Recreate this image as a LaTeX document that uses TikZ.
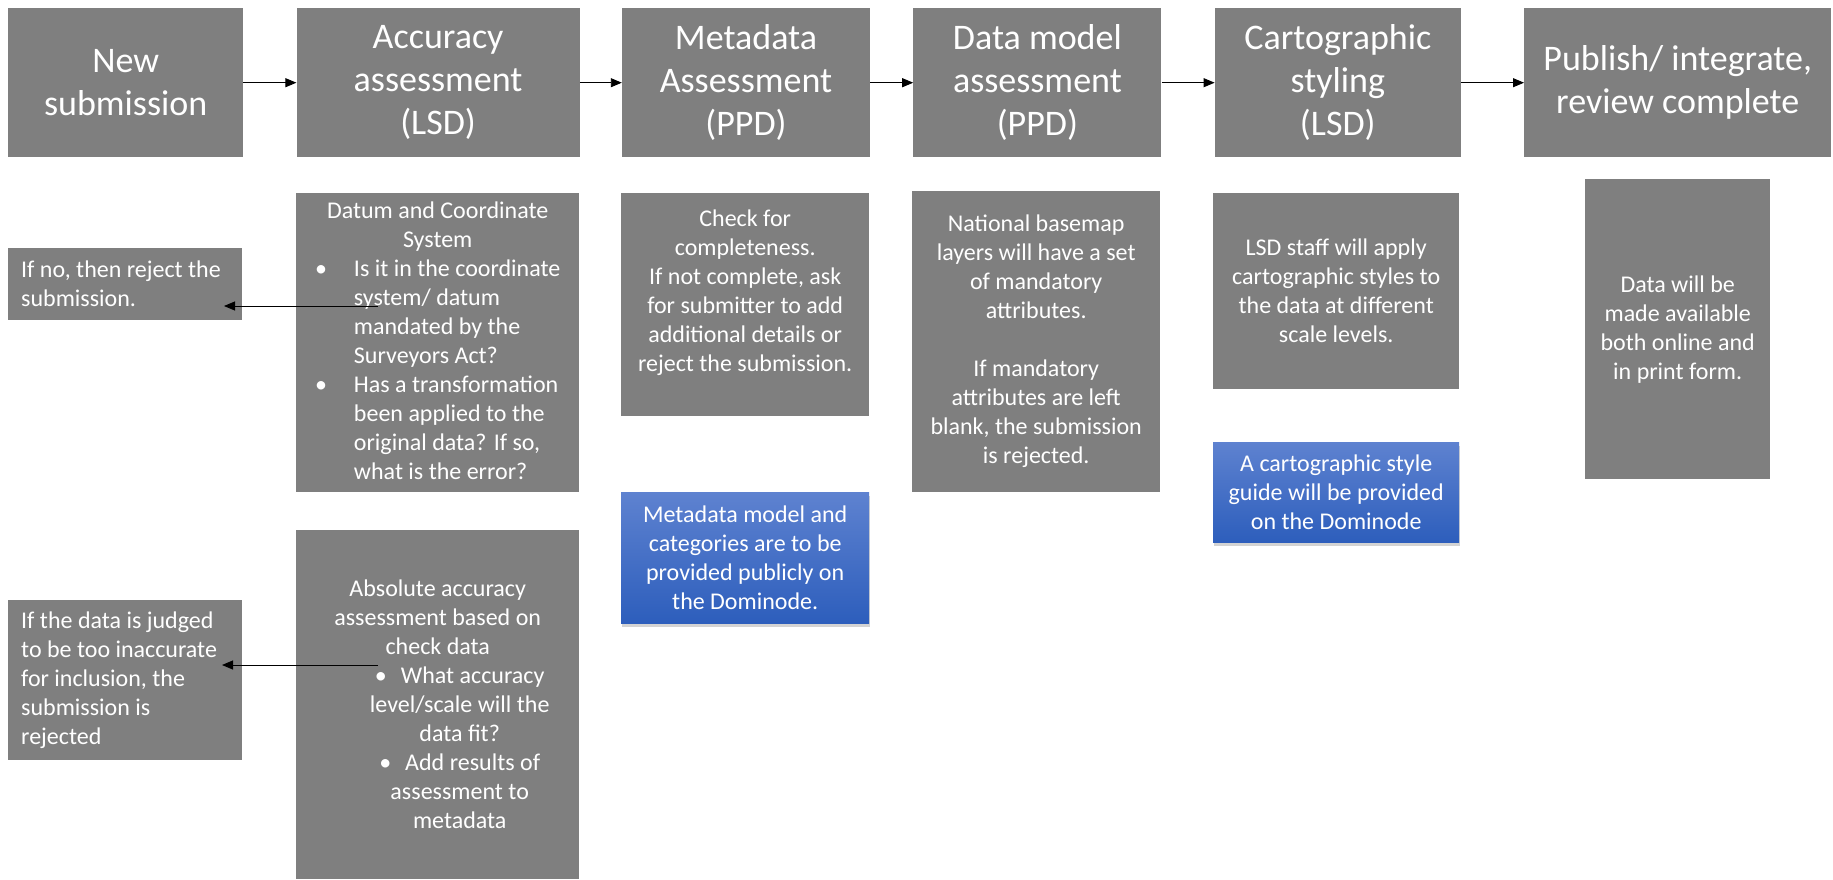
\documentclass[tikz,border=0pt]{standalone}
\usepackage{fontspec}
\setmainfont{Carlito}
\usetikzlibrary{positioning,arrows.meta,shadows}
\definecolor{boxgray}{RGB}{127,127,127}
\definecolor{bluetop}{RGB}{94,130,208}
\definecolor{bluebot}{RGB}{45,94,188}
\tikzset{
  head/.style={fill=boxgray, text=white, minimum height=149pt, inner sep=0pt, align=center, font=\fontsize{36}{43}\selectfont},
  sub/.style={fill=boxgray, text=white, inner sep=0pt, align=center, anchor=north west, font=\fontsize{24}{29}\selectfont},
  note/.style={top color=bluetop, bottom color=bluebot, text=white, inner sep=0pt, align=center, anchor=north west, font=\fontsize{24}{29}\selectfont, drop shadow={shadow xshift=1pt, shadow yshift=-4pt, opacity=0.35}},
  reject/.style={sub, align=flush left, inner xsep=13pt, text width=208pt},
  link/.style={-{Triangle[length=11pt,width=9pt]}, line width=0.9pt}
}
\begin{document}
\begin{tikzpicture}[x=1pt, y=-1pt]
  \useasboundingbox (0,0) rectangle (1833,879);
  % steps
  \node[head, minimum width=235pt, anchor=north west] (1) at (8,8) {New\\submission};
  \node[head, minimum width=283pt] (2) [right=53pt of 1] {Accuracy\\assessment\\(LSD)};
  \node[head, minimum width=248pt] (3) [right=42pt of 2] {Metadata\\Assessment\\(PPD)};
  \node[head, minimum width=248pt] (4) [right=43pt of 3] {Data model\\assessment\\(PPD)};
  \node[head, minimum width=246pt] (5) [right=53pt of 4] {Cartographic\\styling\\(LSD)};
  \node[head, minimum width=307pt] (6) [right=63pt of 5] {Publish/ integrate,\\review complete};

  \draw[link] (1) -- (2);
  \draw[link] (2) -- (3);
  \draw[link] (3) -- (4);
  \draw[link] (4) -- (5);
  \draw[link] (5) -- (6);

  % details
  \node[sub, minimum width=283pt, minimum height=299pt] (2a) at (296,193) {\begin{tabular}{@{}l@{\hspace{27pt}}l@{}}
    \multicolumn{2}{c}{Datum and Coordinate}\\
    \multicolumn{2}{c}{System}\\
    \textbullet & Is it in the coordinate\\
     & system/ datum\\
     & mandated by the\\
     & Surveyors Act?\\
    \textbullet & Has a transformation\\
     & been applied to the\\
     & original data? If so,\\
     & what is the error?
  \end{tabular}};
  \node[sub, minimum width=283pt, minimum height=349pt] (2b) at (296,530) {Absolute accuracy\\assessment based on\\check data\\
    \hspace*{44pt}\textbullet\hspace{14pt}What accuracy\\
    \hspace*{44pt}level/scale will the\\
    \hspace*{44pt}data fit?\\
    \hspace*{44pt}\textbullet\hspace{14pt}Add results of\\
    \hspace*{44pt}assessment to\\
    \hspace*{44pt}metadata};
  \node[reject, minimum height=72pt] (r1) at (8,248) {If no, then reject the\\submission.};
  \node[reject, minimum height=160pt] (r2) at (8,600) {If the data is judged\\to be too inaccurate\\for inclusion, the\\submission is\\rejected};

  \node[sub, minimum width=248pt, minimum height=223pt] (3a) at (621,193) {Check for\\completeness.\\If not complete, ask\\for submitter to add\\additional details or\\reject the submission.\\ \mbox{}};
  \node[note, minimum width=248pt, minimum height=131pt] (3b) at (621,492) {Metadata model and\\categories are to be\\provided publicly on\\the Dominode.};

  \node[sub, minimum width=248pt, minimum height=301pt] (4a) at (912,191) {National basemap\\layers will have a set\\of mandatory\\attributes.\\[29pt]If mandatory\\attributes are left\\blank, the submission\\is rejected.};

  \node[sub, minimum width=246pt, minimum height=196pt] (5a) at (1213,193) {LSD staff will apply\\cartographic styles to\\the data at different\\scale levels.};
  \node[note, minimum width=246pt, minimum height=100pt] (5b) at (1213,442) {A cartographic style\\guide will be provided\\on the Dominode};

  \node[sub, minimum width=185pt, minimum height=300pt] (6a) at (1585,179) {Data will be\\made available\\both online and\\in print form.};

  % rejections
  \coordinate (s1) at (378,306);
  \coordinate (e1) at (224,306);
  \coordinate (s2) at (378,665);
  \coordinate (e2) at (222,665);
  \draw[link] (s1) -- (e1);
  \draw[link] (s2) -- (e2);
\end{tikzpicture}
\end{document}
